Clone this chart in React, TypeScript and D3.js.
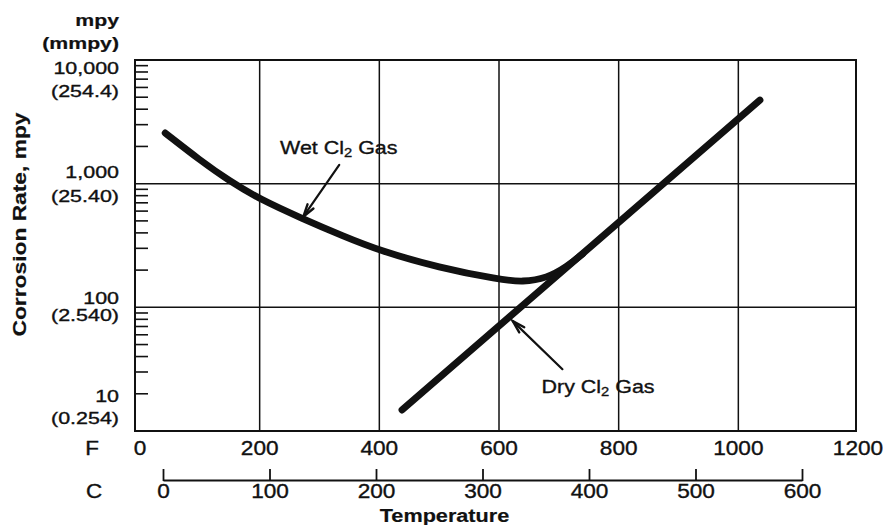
import React from "react";
import * as d3 from "d3";

// ---- data ----
const fTicks = [0, 200, 400, 600, 800, 1000, 1200];
const fGrid = [200, 400, 600, 800, 1000];
const cTicks = [0, 100, 200, 300, 400, 500, 600];
const yMajor = [10000, 1000, 100, 10];
const yLabelsMpy = ["10,000", "1,000", "100", "10"];
const yLabelsMmpy = ["(254.4)", "(25.40)", "(2.540)", "(0.254)"];
const yGrid = [1000, 100];
// Wet Cl2 gas: [temperature F, corrosion rate mpy]
const wetF = [42, 100, 150, 200, 270, 340, 400, 500, 600, 640, 680, 714, 740];
const wetMpy = [2570, 1550, 1047, 750, 525, 376, 288, 209, 168, 160, 172, 214, 271];
// Dry Cl2 gas
const dryF = [438, 1036];
const dryMpy = [14.8, 4740];
// annotations (data units)
const wetLabel = { text: "Wet Cl", sub: "2", rest: " Gas", f: 234, v: 1740, tailF: 333, tailV: 1416, tipF: 273, tipV: 541 };
const dryLabel = { text: "Dry Cl", sub: "2", rest: " Gas", f: 671, v: 20.3, tailF: 706, tailV: 31.6, tipF: 623, tipV: 77.4 };

// ---- layout ----
const W = 884, H = 525;
const frame = { left: 135, right: 856, top: 60, bottom: 431 };
const FONT = "'Liberation Sans', Arial, Helvetica, sans-serif";
const mpyOffsets = [14, -6, -3, -29];
const mmpyOffsets = [37, 18, 14, -7];

const x = d3.scaleLinear().domain([0, 1200]).range([140, 858]);
const y = d3.scaleLog().domain([10, 10000]).range([frame.bottom, frame.top]);
const xc = d3.scaleLinear().domain([0, 600]).range([163.5, 802.5]);

function T(props: any) {
  const { x: tx, y: ty, fs, sx = 1, anchor = "start", bold = false, rotate = 0, children } = props;
  return (
    <text
      transform={`translate(${tx},${ty})${rotate ? ` rotate(${rotate})` : ""} scale(${sx},1)`}
      textAnchor={anchor}
      fontSize={fs}
      fontWeight={bold ? "bold" : "normal"}
      fontFamily={FONT}
      fill="#111"
      stroke="#111"
      strokeWidth={bold ? 0.2 : 0.35}
    >
      {children}
    </text>
  );
}

function Arrow({ x1, y1, x2, y2 }: any) {
  const ang = Math.atan2(y2 - y1, x2 - x1);
  const len = 13, spread = 0.28;
  const b1 = [x2 - len * Math.cos(ang - spread), y2 - len * Math.sin(ang - spread)];
  const b2 = [x2 - len * Math.cos(ang + spread), y2 - len * Math.sin(ang + spread)];
  return (
    <g stroke="#111" fill="none" strokeLinecap="round">
      <line x1={x1} y1={y1} x2={x2} y2={y2} strokeWidth={2.2} />
      <path d={`M${b1[0]},${b1[1]} L${x2},${y2} L${b2[0]},${b2[1]}`} strokeWidth={2.4} />
    </g>
  );
}

export default function App() {
  const wetData = wetF.map((f, i) => [f, wetMpy[i]] as [number, number]);
  const dryData = dryF.map((f, i) => [f, dryMpy[i]] as [number, number]);
  const line = d3
    .line<[number, number]>()
    .x((d) => x(d[0]))
    .y((d) => y(d[1]))
    .curve(d3.curveBasis);
  const straight = d3
    .line<[number, number]>()
    .x((d) => x(d[0]))
    .y((d) => y(d[1]));

  const minor: number[] = [];
  [10, 100, 1000].forEach((dec) => {
    for (let k = 2; k <= 9; k++) minor.push(dec * k);
  });

  const annot = (a: any) => (
    <g>
      <Arrow x1={x(a.tailF)} y1={y(a.tailV)} x2={x(a.tipF)} y2={y(a.tipV)} />
      <text
        transform={`translate(${x(a.f)},${y(a.v)}) scale(1.13,1)`}
        fontSize={19}
        fontFamily={FONT}
        fill="#111"
        stroke="#111"
        strokeWidth={0.35}
      >
        {a.text}
        <tspan fontSize={13} dy={3}>{a.sub}</tspan>
        <tspan dy={-3}>{a.rest}</tspan>
      </text>
    </g>
  );

  return (
    <svg width={W} height={H} style={{ position: "absolute", left: 0, top: 0, background: "#fff" }}>
      <rect x={0} y={0} width={W} height={H} fill="#fff" />
      {/* grid */}
      <g stroke="#111" strokeWidth={1.5}>
        {fGrid.map((f) => (
          <line key={f} x1={x(f)} x2={x(f)} y1={frame.top} y2={frame.bottom} />
        ))}
        {yGrid.map((v) => (
          <line key={v} x1={frame.left} x2={frame.right} y1={y(v)} y2={y(v)} />
        ))}
      </g>
      {/* minor ticks */}
      <g stroke="#111" strokeWidth={1.6}>
        {minor.map((v) => (
          <line key={v} x1={frame.left} x2={frame.left + 13} y1={y(v)} y2={y(v)} />
        ))}
      </g>
      {/* frame */}
      <rect
        x={frame.left}
        y={frame.top}
        width={frame.right - frame.left}
        height={frame.bottom - frame.top}
        fill="none"
        stroke="#111"
        strokeWidth={2}
      />
      {/* curves */}
      <path d={line(wetData) || ""} fill="none" stroke="#111" strokeWidth={6.8} strokeLinecap="round" strokeLinejoin="round" />
      <path d={straight(dryData) || ""} fill="none" stroke="#111" strokeWidth={7} strokeLinecap="round" />

      {annot(wetLabel)}
      {annot(dryLabel)}

      {/* y-axis labels */}
      <T x={119} y={26} fs={17} sx={1.25} anchor="end" bold>mpy</T>
      <T x={119} y={49} fs={17} sx={1.25} anchor="end" bold>(mmpy)</T>
      {yMajor.map((v, i) => (
        <g key={v}>
          <T x={119} y={y(v) + mpyOffsets[i]} fs={16.5} sx={1.3} anchor="end">{yLabelsMpy[i]}</T>
          <T x={119} y={y(v) + mmpyOffsets[i]} fs={16.5} sx={1.3} anchor="end">{yLabelsMmpy[i]}</T>
        </g>
      ))}
      <T x={26} y={224.5} fs={19} sx={1.2} anchor="middle" bold rotate={-90}>Corrosion Rate, mpy</T>

      {/* F axis labels */}
      <T x={92} y={455} fs={19.5} sx={1.15} anchor="middle">F</T>
      {fTicks.map((f) => (
        <T key={f} x={x(f)} y={455} fs={19.5} sx={1.16} anchor="middle">{String(f)}</T>
      ))}

      {/* C axis */}
      <line x1={xc(0)} x2={xc(600)} y1={480.5} y2={480.5} stroke="#111" strokeWidth={2} />
      <g stroke="#111" strokeWidth={1.8}>
        {cTicks.map((c) => (
          <line key={c} x1={xc(c)} x2={xc(c)} y1={469} y2={481} />
        ))}
      </g>
      <T x={94} y={498} fs={19.5} sx={1.15} anchor="middle">C</T>
      {cTicks.map((c) => (
        <T key={c} x={xc(c)} y={498} fs={19.5} sx={1.16} anchor="middle">{String(c)}</T>
      ))}
      <T x={444.5} y={521.5} fs={19} sx={1.14} anchor="middle" bold>Temperature</T>
    </svg>
  );
}
